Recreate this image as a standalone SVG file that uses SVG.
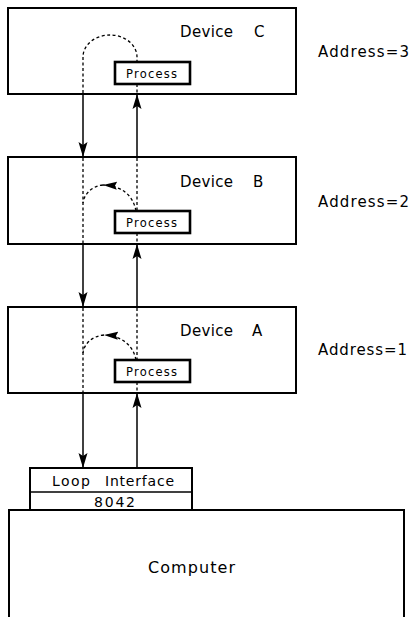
<svg xmlns="http://www.w3.org/2000/svg" width="412" height="617" viewBox="0 0 412 617">
  <style>
    .box { fill: #fff; stroke: #000; stroke-width: 2; }
    .proc { fill: #fff; stroke: #000; stroke-width: 2.6; }
    .txt { font-family: "DejaVu Sans", "Liberation Sans", sans-serif; fill: #000; }
    .lbl { font-size: 15px; }
    .ptxt { font-size: 11.5px; }
    .solid { fill: none; stroke: #000; stroke-width: 1.5; }
    .dash { fill: none; stroke: #000; stroke-width: 1.3; stroke-dasharray: 3 2.5; }
  </style>
  <defs>
    <marker id="arrow" markerUnits="userSpaceOnUse" markerWidth="16" markerHeight="10" viewBox="0 0 16 10" refX="15" refY="5" orient="auto">
      <path d="M0,0.5 L15,5 L0,9.5 L3,5 Z" fill="#000"/>
    </marker>
    <marker id="arrowSmall" markerUnits="userSpaceOnUse" markerWidth="15" markerHeight="9" viewBox="0 0 15 9" refX="14" refY="4.5" orient="auto">
      <path d="M0,0.5 L14,4.5 L0,8.5 L2,4.5 Z" fill="#000"/>
    </marker>
  </defs>

  <rect width="412" height="617" fill="#fff"/>

  <!-- Device C -->
  <g id="device-c">
    <rect class="box" x="8" y="8" width="288" height="86"/>
    <text class="txt lbl" x="180" y="37" textLength="53" lengthAdjust="spacing">Device</text>
    <text class="txt lbl" x="254" y="37">C</text>
    <rect class="proc" x="115" y="62" width="75" height="22"/>
    <text class="txt ptxt" x="126" y="78" textLength="51" lengthAdjust="spacing">Process</text>
  </g>
  <text class="txt lbl" x="318" y="57" textLength="91" lengthAdjust="spacing">Address=3</text>

  <!-- Device B -->
  <g id="device-b">
    <rect class="box" x="8" y="157" width="288" height="87"/>
    <text class="txt lbl" x="180" y="187" textLength="53" lengthAdjust="spacing">Device</text>
    <text class="txt lbl" x="253" y="187">B</text>
    <rect class="proc" x="115" y="211" width="75" height="22"/>
    <text class="txt ptxt" x="126" y="227" textLength="51" lengthAdjust="spacing">Process</text>
  </g>
  <text class="txt lbl" x="318" y="207" textLength="91" lengthAdjust="spacing">Address=2</text>

  <!-- Device A -->
  <g id="device-a">
    <rect class="box" x="8" y="307" width="288" height="86"/>
    <text class="txt lbl" x="180" y="336" textLength="53" lengthAdjust="spacing">Device</text>
    <text class="txt lbl" x="252" y="336">A</text>
    <rect class="proc" x="115" y="360" width="75" height="22"/>
    <text class="txt ptxt" x="126" y="376" textLength="51" lengthAdjust="spacing">Process</text>
  </g>
  <text class="txt lbl" x="318" y="355" textLength="89" lengthAdjust="spacing">Address=1</text>

  <!-- Loop interface -->
  <g id="loop-interface">
    <rect class="box" x="30" y="468" width="162" height="42"/>
    <line x1="30" y1="492" x2="192" y2="492" stroke="#000" stroke-width="1.6"/>
    <text class="txt" font-size="14" x="52" y="486" textLength="38" lengthAdjust="spacing">Loop</text>
    <text class="txt" font-size="14" x="105" y="486" textLength="69" lengthAdjust="spacing">Interface</text>
    <text class="txt" font-size="14" x="94" y="507" textLength="41" lengthAdjust="spacing">8042</text>
  </g>

  <!-- Computer -->
  <g id="computer">
    <rect class="box" x="9" y="510" width="395" height="110"/>
    <text class="txt" font-size="16" x="148" y="573" textLength="87" lengthAdjust="spacing">Computer</text>
  </g>

  <!-- Loop connections -->
  <g id="connectors">
    <!-- outgoing (down) side -->
    <path class="solid" d="M83,94 V157" marker-end="url(#arrow)"/>
    <path class="solid" d="M83,244 V307" marker-end="url(#arrow)"/>
    <path class="solid" d="M83,393 V468" marker-end="url(#arrow)"/>
    <!-- return (up) side -->
    <path class="solid" d="M137,468 V393" marker-end="url(#arrow)"/>
    <path class="solid" d="M137,307 V244" marker-end="url(#arrow)"/>
    <path class="solid" d="M137,157 V94" marker-end="url(#arrow)"/>

    <!-- inside Device C -->
    <path class="dash" d="M83,93 V57 A27,22 0 0 1 137,57 V62"/>
    <path class="dash" d="M137,84 V93"/>

    <!-- inside Device B -->
    <path class="dash" d="M83,158 V243"/>
    <path class="dash" d="M137,158 V211"/>
    <path class="dash" d="M137,233 V243"/>
    <path class="dash" d="M136,211 C133,195 122,186 103,185" marker-end="url(#arrowSmall)"/>
    <path class="dash" d="M103,185 C92,186 84,194 83,203"/>

    <!-- inside Device A -->
    <path class="dash" d="M83,308 V392"/>
    <path class="dash" d="M137,308 V360"/>
    <path class="dash" d="M137,382 V392"/>
    <path class="dash" d="M136,360 C133,345 122,336 104,335" marker-end="url(#arrowSmall)"/>
    <path class="dash" d="M104,335 C92,336 84,344 83,353"/>
  </g>
</svg>
